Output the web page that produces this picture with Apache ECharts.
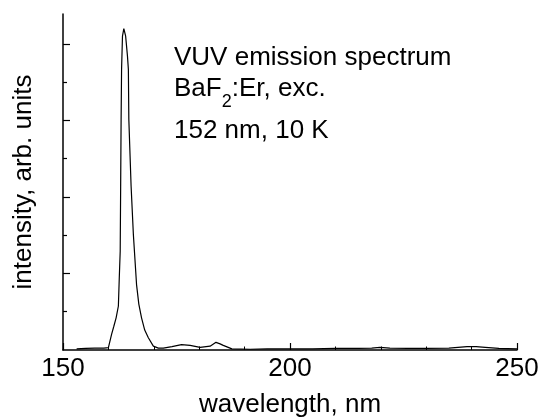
<!DOCTYPE html>
<html>
<head>
<meta charset="utf-8">
<script src="https://cdn.jsdelivr.net/npm/echarts@6/dist/echarts.min.js"></script>
<style>
html,body{margin:0;padding:0;background:#fff;}
#chart{width:540px;height:419px;}
</style>
</head>
<body>
<div id="chart"></div>
<script>
// wavelength (nm)
var wavelength = [153.0,155.0,157.0,159.0,160.0,160.7,161.2,161.7,162.2,162.4,162.6,162.7,162.8,162.9,163.1,163.4,163.8,164.2,164.4,164.5,165.0,165.5,166.2,166.7,167.3,168.0,168.8,169.9,170.3,171.0,172.1,174.0,176.1,178.0,180.2,182.4,183.7,184.6,185.3,187.2,191.2,195,200,205,210,215,218,219.8,222,226,230,235,237,239,241,243,246,250];
// intensity (arb. units)
var intensity = [0.03,0.04,0.05,0.05,0.06,0.41,0.62,0.84,1.15,1.9,2.58,4.28,6.03,7.33,8.20,8.40,8.20,7.68,7.33,6.03,4.28,3.02,1.71,1.2,0.84,0.52,0.32,0.10,0.06,0.05,0.05,0.09,0.14,0.12,0.07,0.10,0.20,0.16,0.12,0.03,0.02,0.03,0.03,0.03,0.04,0.04,0.05,0.07,0.05,0.04,0.04,0.05,0.07,0.09,0.09,0.07,0.04,0.03];
var xTicks = [150, 200, 250];
var yMajorTicks = [2, 4, 6, 8];
var yMinorTicks = [1, 3, 5, 7];
var xName = 'wavelength, nm';
var yName = 'intensity, arb. units';
var note1 = 'VUV emission spectrum';
var note2a = 'BaF', note2sub = '2', note2b = ':Er, exc.';
var note3 = '152 nm, 10 K';

var FONT = "'Liberation Sans', Arial, sans-serif";
var pts = wavelength.map(function (w, i) { return [w, intensity[i]]; });

var chart = echarts.init(document.getElementById('chart'), null, {renderer: 'canvas'});
chart.setOption({
  animation: false,
  backgroundColor: '#fff',
  grid: {left: 63, right: 23, top: 14, bottom: 69, containLabel: false, outerBoundsMode: 'none'},
  xAxis: {
    type: 'value', min: xTicks[0], max: xTicks[xTicks.length - 1], interval: 50,
    name: xName, nameLocation: 'middle', nameGap: 42,
    nameTextStyle: {fontFamily: FONT, fontSize: 26, color: '#000'},
    axisLine: {onZero: false, lineStyle: {color: '#000', width: 1.5}},
    axisTick: {inside: true, length: 7, lineStyle: {color: '#000', width: 1.2}},
    minorTick: {show: true, splitNumber: 5, length: 3.5, lineStyle: {color: '#000', width: 1}},
    axisLabel: {fontFamily: FONT, fontSize: 26, color: '#000', margin: 6},
    splitLine: {show: false}
  },
  yAxis: [{
    type: 'value', min: 0, max: 8.78, interval: 2, position: 'left',
    name: yName, nameLocation: 'middle', nameGap: 26,
    nameTextStyle: {fontFamily: FONT, fontSize: 26, color: '#000'},
    axisLine: {show: true, onZero: false, lineStyle: {color: '#000', width: 1.5}},
    axisTick: {show: true, inside: true, length: 7, customValues: yMajorTicks, lineStyle: {color: '#000', width: 1.2}},
    axisLabel: {show: false},
    splitLine: {show: false}
  }, {
    type: 'value', min: 0, max: 8.78, interval: 2, position: 'left', offset: 0,
    axisLine: {show: false, onZero: false},
    axisTick: {show: true, inside: true, length: 4, customValues: yMinorTicks, lineStyle: {color: '#000', width: 1.2}},
    axisLabel: {show: false},
    splitLine: {show: false}
  }],
  series: [{
    type: 'line', data: pts, showSymbol: false, clip: false,
    lineStyle: {color: '#000', width: 1.2}, itemStyle: {color: '#000'}
  }],
  graphic: [
    {type: 'text', left: 174, top: 44.7, style: {text: note1, font: '26px ' + FONT, fill: '#000'}},
    {type: 'text', left: 174, top: 76.3, style: {
      text: '{a|' + note2a + '}{s|' + note2sub + '}{a|' + note2b + '}',
      fill: '#000',
      rich: {
        a: {fontFamily: FONT, fontSize: 26, lineHeight: 26, verticalAlign: 'top', fill: '#000'},
        s: {fontFamily: FONT, fontSize: 18, lineHeight: 18, verticalAlign: 'top', padding: [17, 0, 0, 0], fill: '#000'}
      }
    }},
    {type: 'text', left: 174, top: 118, style: {text: note3, font: '26px ' + FONT, fill: '#000'}}
  ]
});
</script>
</body>
</html>
